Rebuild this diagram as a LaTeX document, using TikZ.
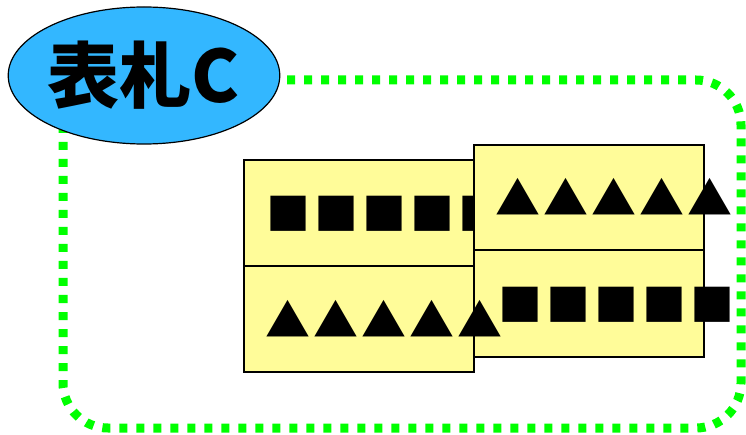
\documentclass[tikz,border=0pt]{standalone}
\usepackage{fontspec}
\newfontfamily\cjk{Noto Sans CJK JP}
\usetikzlibrary{shapes.geometric}
\definecolor{cardfill}{RGB}{255,252,153}
\definecolor{ovalfill}{RGB}{51,183,255}
\definecolor{dotgreen}{RGB}{0,255,0}
\newcommand{\sqrow}{■\kern4pt■\kern4pt■\kern4pt■\kern4pt■}
\newcommand{\trirow}{▲\kern3pt▲\kern3pt▲\kern3pt▲\kern3pt▲}
\begin{document}
\begin{tikzpicture}[x=1pt,y=-1pt,
  cardbox/.style={draw=black,line width=1.6pt,fill=cardfill,minimum width=230pt,minimum height=106pt,anchor=north west,inner sep=0pt},
  sqglyphs/.style={anchor=west,inner sep=0pt,font=\cjk\fontsize{44pt}{44pt}\selectfont},
  triglyphs/.style={anchor=west,inner sep=0pt,font=\cjk\fontsize{45pt}{45pt}\selectfont},
  tagoval/.style={ellipse,draw=black,line width=1.2pt,fill=ovalfill,minimum width=270pt,minimum height=137pt,inner sep=0pt,font=\cjk\bfseries\fontsize{72pt}{72pt}\selectfont},
  frameline/.style={dotgreen,line width=9pt,dash pattern=on 8pt off 9pt,rounded corners=45pt}]
\useasboundingbox (0,0) rectangle (746,435);
\draw[frameline] (63,80) rectangle (741,428);
\node[cardbox] (lt) at (243,159) {};
\node[sqglyphs] (ltrow) at (266,214) {\sqrow};
\node[cardbox] (rt) at (473,144) {};
\node[triglyphs] (rtrow) at (495,197.3) {\trirow};
\node[cardbox,minimum height=106.5pt] (rb) at (473,249.5) {};
\node[sqglyphs] (rbrow) at (498,304.5) {\sqrow};
\node[cardbox] (lb) at (243,265) {};
\node[triglyphs] (lbrow) at (265,318.5) {\trirow};
\node[tagoval] (tag) at (144,75.5) {表札C};
\end{tikzpicture}
\end{document}
